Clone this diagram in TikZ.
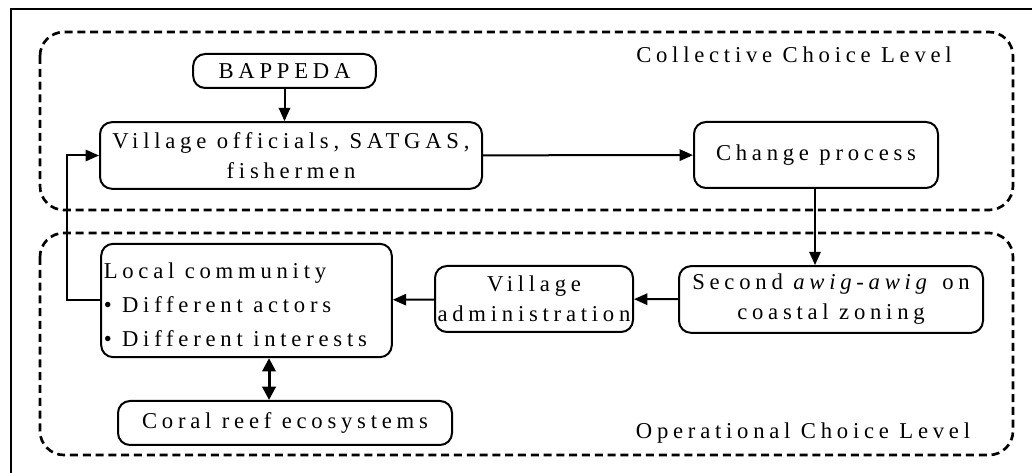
\documentclass[tikz,border=0pt]{standalone}
\usepackage{fontspec}
\setmainfont{Liberation Serif}[LetterSpace=21]
\usetikzlibrary{arrows.meta,positioning}

\begin{document}
\begin{tikzpicture}[x=0.75pt,y=0.75pt,yscale=-1,xscale=1,
  actorbox/.style={draw,line width=1.5pt,rounded corners=9pt,inner sep=0pt,align=center,
    font=\fontsize{17}{22.5}\selectfont},
  levelbox/.style={draw,line width=2pt,dash pattern=on 6pt off 3.6pt,rounded corners=18pt},
  levellabel/.style={font=\fontsize{17}{20}\selectfont},
  flow/.style={line width=1.5pt,-{Triangle[length=10pt,width=8.5pt]}}]
\useasboundingbox (0,0) rectangle (1032,473);

%Frame
\draw [line width=1.2pt] (1032,9) -- (11,9) -- (11,473);
%Level boxes
\draw [levelbox] (40,32) rectangle (1013,210);
\draw [levelbox] (40,233) rectangle (1013,455);

% Level labels
\node [levellabel] (colllabel) at (794,55) {Collective Choice Level};
\node [levellabel] (oplabel) at (803,433) {Operational Choice Level};

% Actor boxes
\node [actorbox,minimum width=137pt,minimum height=25.5pt] (bappeda) at (284.5,71) {BAPPEDA};
\node [actorbox,minimum width=286.5pt,minimum height=50pt] (officials) at (291,155.5) {Village officials, SATGAS,\\fishermen};
\node [actorbox,minimum width=183pt,minimum height=49.5pt] (change) at (816,155) {Change process};
\node [actorbox,minimum width=228pt,minimum height=50pt] (second) at (831,299.5) {Second \textit{awig-awig} on\\coastal zoning};
\node [actorbox,minimum width=148.5pt,minimum height=49.5pt] (admin) at (534,299) {Village\\administration};
\node [actorbox,minimum width=218pt,minimum height=85pt] (local) at (246.5,300.5) {};
\node [anchor=west,inner sep=0pt,align=left,font=\fontsize{17}{25.5}\selectfont]
  (localtext) at ([xshift=2.5pt,yshift=3pt]local.west) {Local community\\\textbullet\ Different actors\\\textbullet\ Different interests};
\node [actorbox,minimum width=250.5pt,minimum height=33pt] (coral) at (285,423) {Coral reef ecosystems};

% Connections
\draw [flow] (bappeda.south) -- (bappeda.south |- officials.north);
\draw [flow] (officials) -- (change);
\draw [flow] ([xshift=-0.75pt]change.south) -- ([xshift=-0.75pt]change.south |- second.north);
\draw [flow] (second) -- (admin);
\draw [flow] (admin) -- (local);
\draw [flow] (local.west) -- ++(-33,0) |- (officials.west);
\draw [line width=2.2pt,{Triangle[length=10pt,width=10pt]}-{Triangle[length=10pt,width=10pt]}]
  ([xshift=16.9pt]local.south) -- ([xshift=16.9pt]local.south |- coral.north);

\end{tikzpicture}
\end{document}
